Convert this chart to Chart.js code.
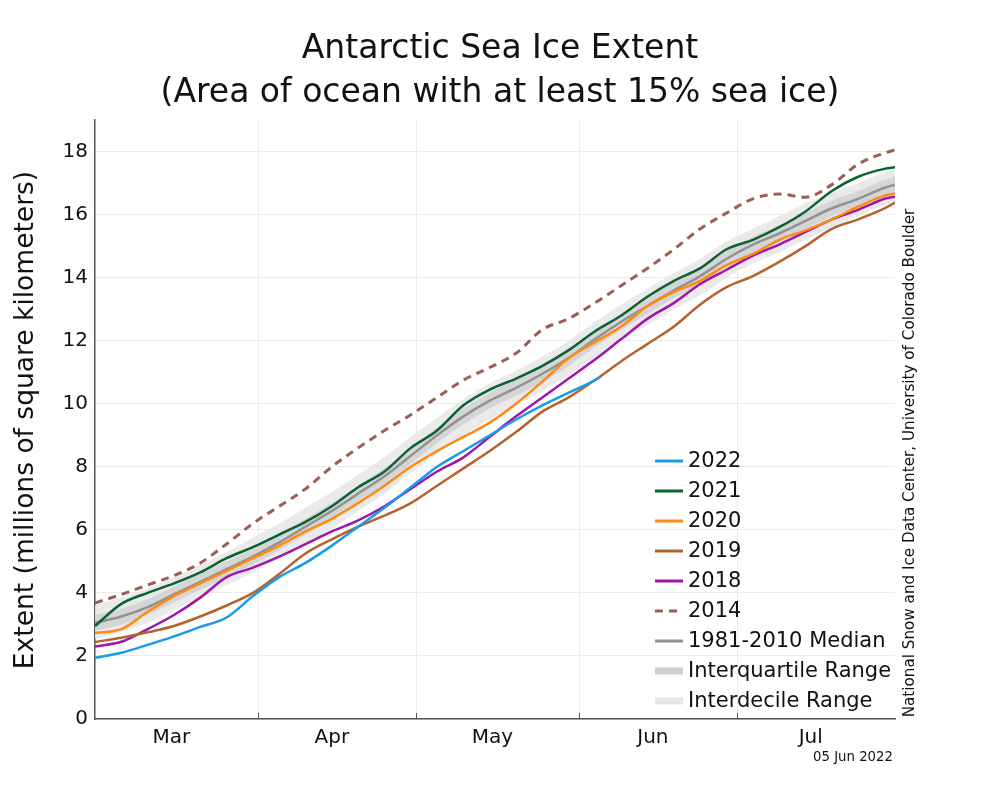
<!DOCTYPE html>
<html>
<head>
<meta charset="utf-8">
<script src="https://cdn.jsdelivr.net/npm/chart.js@4.4.1/dist/chart.umd.min.js"></script>
<style>
  body { margin: 0; background: #fff; }
  canvas { display: block; }
</style>
</head>
<body>
<canvas id="iceChart" width="1000" height="800"></canvas>
<script>
// Days counted from 1 March (day 0) to 31 July (day 152)
const days = [0, 5, 10, 15, 20, 25, 30, 35, 40, 45, 50, 55, 60, 65, 70, 75, 80, 85, 90, 95,
  100, 105, 110, 115, 120, 125, 130, 135, 140, 145, 150, 152];
const days2022 = [0, 5, 10, 15, 20, 25, 30, 35, 40, 45, 50, 55, 60, 65, 70, 75, 80, 85, 90, 95, 96];

// Extent in millions of km²
const ext2022 = [1.94, 2.1, 2.35, 2.62, 2.92, 3.22, 3.9, 4.5, 4.95, 5.5, 6.1, 6.7, 7.35, 8.0, 8.5,
  9.0, 9.5, 9.95, 10.35, 10.75, 10.85];
const ext2021 = [2.95, 3.65, 4.0, 4.3, 4.65, 5.1, 5.45, 5.85, 6.25, 6.75, 7.35, 7.85, 8.6, 9.15, 9.95,
  10.45, 10.8, 11.2, 11.7, 12.3, 12.8, 13.4, 13.9, 14.3, 14.9, 15.2, 15.6, 16.1, 16.75, 17.2, 17.45, 17.5];
const ext2020 = [2.73, 2.85, 3.4, 3.9, 4.3, 4.7, 5.1, 5.5, 5.95, 6.35, 6.85, 7.4, 8.0, 8.5, 8.95,
  9.4, 10.0, 10.7, 11.45, 11.95, 12.45, 13.1, 13.55, 13.9, 14.4, 14.75, 15.2, 15.5, 15.85, 16.25, 16.6, 16.67];
const ext2019 = [2.44, 2.58, 2.75, 2.95, 3.25, 3.6, 4.0, 4.6, 5.25, 5.7, 6.1, 6.45, 6.85, 7.4, 7.95,
  8.5, 9.1, 9.75, 10.2, 10.75, 11.35, 11.9, 12.45, 13.15, 13.7, 14.05, 14.5, 15.0, 15.55, 15.85, 16.2, 16.38];
const ext2018 = [2.3, 2.45, 2.85, 3.3, 3.85, 4.5, 4.8, 5.15, 5.55, 5.95, 6.3, 6.75, 7.3, 7.85, 8.3,
  8.95, 9.6, 10.2, 10.8, 11.4, 12.05, 12.7, 13.2, 13.8, 14.25, 14.7, 15.05, 15.45, 15.85, 16.15, 16.5, 16.57];
const ext2014 = [3.68, 3.95, 4.25, 4.55, 4.95, 5.55, 6.2, 6.75, 7.3, 8.0, 8.6, 9.15, 9.65, 10.2, 10.75,
  11.15, 11.6, 12.35, 12.7, 13.2, 13.75, 14.3, 14.9, 15.55, 16.05, 16.5, 16.65, 16.55, 16.95, 17.6, 17.95, 18.05];
const median = [3.05, 3.25, 3.55, 3.95, 4.35, 4.75, 5.15, 5.6, 6.1, 6.6, 7.15, 7.7, 8.35, 9.0, 9.6,
  10.1, 10.5, 10.95, 11.45, 12.05, 12.6, 13.1, 13.6, 14.05, 14.6, 15.05, 15.4, 15.8, 16.2, 16.5, 16.85, 16.95];
const iqrLow = [2.8, 3.0, 3.3, 3.7, 4.1, 4.5, 4.9, 5.35, 5.85, 6.35, 6.9, 7.45, 8.1, 8.75, 9.35,
  9.85, 10.25, 10.7, 11.2, 11.8, 12.35, 12.85, 13.35, 13.8, 14.35, 14.8, 15.15, 15.55, 15.95, 16.25, 16.6, 16.7];
const iqrHigh = [3.3, 3.5, 3.8, 4.2, 4.6, 5.0, 5.4, 5.85, 6.35, 6.85, 7.4, 7.95, 8.6, 9.25, 9.85,
  10.35, 10.75, 11.2, 11.7, 12.3, 12.85, 13.35, 13.85, 14.3, 14.85, 15.3, 15.65, 16.05, 16.45, 16.75, 17.1, 17.2];
const decLow = [2.55, 2.75, 3.05, 3.45, 3.85, 4.25, 4.65, 5.1, 5.55, 6.05, 6.6, 7.15, 7.8, 8.4, 9.0,
  9.5, 9.95, 10.4, 10.9, 11.45, 12.0, 12.5, 13.0, 13.45, 14.0, 14.45, 14.8, 15.2, 15.6, 15.95, 16.3, 16.4];
const decHigh = [3.6, 3.85, 4.15, 4.5, 4.9, 5.3, 5.75, 6.2, 6.7, 7.2, 7.75, 8.3, 8.95, 9.55, 10.15,
  10.65, 11.05, 11.5, 12.0, 12.6, 13.15, 13.65, 14.15, 14.6, 15.15, 15.55, 15.95, 16.35, 16.7, 17.0, 17.35, 17.45];

// Axis ticks
const monthStarts = [31, 61, 92, 122];
const monthMids = [14.5, 45, 75.5, 106, 136];
const monthNames = ["Mar", "Apr", "May", "Jun", "Jul"];
const yTicks = [0, 2, 4, 6, 8, 10, 12, 14, 16, 18];

const FONT = '"DejaVu Sans", "Liberation Sans", sans-serif';

function toPoints(xs, ys) {
  return xs.map((x, i) => ({ x: x, y: ys[i] }));
}

function yearLine(label, xs, ys, color, dash) {
  return {
    label: label,
    data: toPoints(xs, ys),
    borderColor: color,
    borderWidth: dash ? 3 : 2.5,
    borderDash: dash || [],
    pointRadius: 0,
    cubicInterpolationMode: "monotone",
    fill: false,
  };
}

function bandEdge(label, ys, color, fillTarget) {
  return {
    label: label,
    data: toPoints(days, ys),
    borderWidth: 0,
    borderColor: "rgba(0,0,0,0)",
    backgroundColor: color,
    pointRadius: 0,
    cubicInterpolationMode: "monotone",
    fill: fillTarget === undefined ? false : fillTarget,
  };
}

// Legend entries drawn inside the plot
const legendItems = [
  { text: "2022", color: "#1a9be6", width: 3 },
  { text: "2021", color: "#0b6333", width: 3 },
  { text: "2020", color: "#ff8a12", width: 3 },
  { text: "2019", color: "#b5622c", width: 3 },
  { text: "2018", color: "#a015ac", width: 3 },
  { text: "2014", color: "#9a5f55", width: 3, dash: [8, 6] },
  { text: "1981-2010 Median", color: "#929292", width: 3 },
  { text: "Interquartile Range", color: "#cfcfcf", width: 7 },
  { text: "Interdecile Range", color: "#e6e6e6", width: 7 },
];

const overlayPlugin = {
  id: "overlay",
  afterDraw(chart) {
    const ctx = chart.ctx;
    const area = chart.chartArea;
    const xs = chart.scales.x;
    ctx.save();

    // small inward tick marks at month boundaries
    ctx.strokeStyle = "#555";
    ctx.lineWidth = 1;
    monthStarts.forEach((d) => {
      const px = Math.round(xs.getPixelForValue(d)) + 0.5;
      ctx.beginPath();
      ctx.moveTo(px, area.bottom);
      ctx.lineTo(px, area.bottom - 6);
      ctx.stroke();
    });

    // title
    ctx.fillStyle = "#111";
    ctx.textAlign = "center";
    ctx.textBaseline = "middle";
    ctx.font = "33px " + FONT;
    ctx.fillText("Antarctic Sea Ice Extent", 500, 49);
    ctx.fillText("(Area of ocean with at least 15% sea ice)", 500, 93);

    // y axis title
    ctx.save();
    ctx.translate(26, 420);
    ctx.rotate(-Math.PI / 2);
    ctx.font = "26.5px " + FONT;
    ctx.fillText("Extent (millions of square kilometers)", 0, 0);
    ctx.restore();

    // credit
    ctx.save();
    ctx.translate(910, 463);
    ctx.rotate(-Math.PI / 2);
    ctx.font = "15.2px " + FONT;
    ctx.fillText("National Snow and Ice Data Center, University of Colorado Boulder", 0, 0);
    ctx.restore();

    // date stamp
    ctx.textAlign = "right";
    ctx.font = "13.3px " + FONT;
    ctx.fillText("05 Jun 2022", 893, 758);

    // legend
    ctx.textAlign = "left";
    ctx.font = "21px " + FONT;
    legendItems.forEach((item, i) => {
      const y = 461 + i * 30;
      ctx.strokeStyle = item.color;
      ctx.lineWidth = item.width;
      ctx.setLineDash(item.dash || []);
      ctx.beginPath();
      ctx.moveTo(655, y);
      ctx.lineTo(683, y);
      ctx.stroke();
      ctx.setLineDash([]);
      ctx.fillStyle = "#111";
      ctx.fillText(item.text, 688, y + 1);
    });

    ctx.restore();
  },
};

const datasets = [
  yearLine("2022", days2022, ext2022, legendItems[0].color),
  yearLine("2021", days, ext2021, legendItems[1].color),
  yearLine("2020", days, ext2020, legendItems[2].color),
  yearLine("2019", days, ext2019, legendItems[3].color),
  yearLine("2018", days, ext2018, legendItems[4].color),
  yearLine("2014", days, ext2014, legendItems[5].color, [8, 6]),
  yearLine("1981-2010 Median", days, median, legendItems[6].color),
  bandEdge("IQR high", iqrHigh, "rgba(205,205,205,0.75)", 8),
  bandEdge("IQR low", iqrLow, "rgba(0,0,0,0)"),
  bandEdge("Decile high", decHigh, "rgba(232,232,232,0.9)", 10),
  bandEdge("Decile low", decLow, "rgba(0,0,0,0)"),
];

new Chart(document.getElementById("iceChart").getContext("2d"), {
  type: "line",
  data: { datasets: datasets },
  plugins: [overlayPlugin],
  options: {
    responsive: false,
    animation: false,
    layout: { padding: { top: 120, right: 105, left: 0, bottom: 0 } },
    plugins: {
      legend: { display: false },
      title: { display: false },
      tooltip: { enabled: false },
    },
    scales: {
      x: {
        type: "linear",
        min: 0,
        max: 152,
        afterBuildTicks: (scale) => {
          scale.ticks = monthStarts.concat(monthMids)
            .sort((a, b) => a - b)
            .map((v) => ({ value: v }));
        },
        afterFit: (scale) => { scale.height = 81; },
        ticks: {
          autoSkip: false,
          maxRotation: 0,
          padding: 7,
          color: "#111",
          font: { family: FONT, size: 20 },
          callback: (value) => {
            const i = monthMids.indexOf(value);
            return i >= 0 ? monthNames[i] : "";
          },
        },
        grid: {
          drawTicks: false,
          lineWidth: 1,
          color: (ctx) => (ctx.tick && monthStarts.includes(ctx.tick.value) ? "#ebebeb" : "rgba(0,0,0,0)"),
        },
        border: { color: "#555", width: 1.5 },
      },
      y: {
        min: 0,
        max: 19,
        afterBuildTicks: (scale) => {
          scale.ticks = yTicks.map((v) => ({ value: v }));
        },
        afterFit: (scale) => { scale.width = 95; },
        ticks: {
          padding: 7,
          color: "#111",
          font: { family: FONT, size: 20 },
        },
        grid: { drawTicks: false, color: "#ebebeb", lineWidth: 1 },
        border: { color: "#555", width: 1.5 },
      },
    },
  },
});
</script>
</body>
</html>
